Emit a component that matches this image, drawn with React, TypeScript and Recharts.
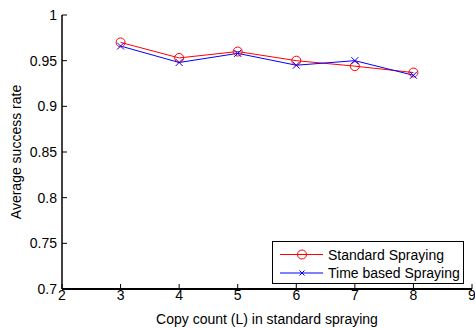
import React from 'react';
import { LineChart, Line, XAxis, YAxis } from 'recharts';

const copyCounts = [3, 4, 5, 6, 7, 8];
const standardSpraying = [0.97, 0.953, 0.96, 0.95, 0.944, 0.937];
const timeBasedSpraying = [0.966, 0.948, 0.958, 0.945, 0.95, 0.934];
const xTicks = [2, 3, 4, 5, 6, 7, 8, 9];
const yTicks = [0.7, 0.75, 0.8, 0.85, 0.9, 0.95, 1];
const seriesNames = ['Standard Spraying', 'Time based Spraying'];
const xTitle = 'Copy count (L) in standard spraying';
const yTitle = 'Average success rate';

const data = copyCounts.map((c, i) => ({
  x: c,
  standard: standardSpraying[i],
  time: timeBasedSpraying[i],
}));

const FONT = '"Liberation Sans", Arial, Helvetica, sans-serif';
const FS = 14;

const BottomTick = (p: any) => (
  <g>
    <line x1={p.x} x2={p.x} y1={p.y} y2={p.y - 5} stroke="#000" strokeWidth={1} />
    <text x={p.x} y={p.y + 11} textAnchor="middle" fontSize={FS} fontFamily={FONT} fill="#000">
      {p.payload.value}
    </text>
  </g>
);
const TopTick = (p: any) => (
  <line x1={p.x} x2={p.x} y1={p.y} y2={p.y + 5} stroke="#000" strokeWidth={1} />
);
const LeftTick = (p: any) => (
  <g>
    <line x1={p.x} x2={p.x + 5} y1={p.y} y2={p.y} stroke="#000" strokeWidth={1} />
    <text x={p.x - 5} y={p.y + 5} textAnchor="end" fontSize={FS} fontFamily={FONT} fill="#000">
      {p.payload.value}
    </text>
  </g>
);
const RightTick = (p: any) => (
  <line x1={p.x} x2={p.x - 5} y1={p.y} y2={p.y} stroke="#000" strokeWidth={1} />
);

const YTitle = (p: any) => {
  const vb = p.viewBox || { x: 0, y: 15, width: 62, height: 274 };
  const cx = vb.x + 21;
  const cy = vb.y + vb.height / 2;
  return (
    <text
      x={cx}
      y={cy}
      transform={`rotate(-90 ${cx} ${cy})`}
      textAnchor="middle"
      fontSize={FS}
      fontFamily={FONT}
      fill="#000"
    >
      {yTitle}
    </text>
  );
};

const CircleDot = (p: any) => (
  <circle key={`c${p.index}`} cx={p.cx} cy={p.cy} r={4.5} fill="none" stroke="#ff0000" strokeWidth={1} />
);
const CrossDot = (p: any) => {
  const s = 3.5;
  return (
    <path
      key={`x${p.index}`}
      d={`M${p.cx - s},${p.cy - s}L${p.cx + s},${p.cy + s}M${p.cx - s},${p.cy + s}L${p.cx + s},${p.cy - s}`}
      stroke="#0000ff"
      strokeWidth={1}
      fill="none"
    />
  );
};

const LegendBox = () => (
  <svg width={192} height={43} style={{ display: 'block' }}>
    <rect x={0.5} y={0.5} width={191} height={42} fill="#fff" stroke="#000" strokeWidth={1} />
    <line x1={8} x2={51} y1={13.5} y2={13.5} stroke="#ff0000" strokeWidth={1} />
    <circle cx={30} cy={13.5} r={4.5} fill="none" stroke="#ff0000" strokeWidth={1} />
    <text x={56} y={18.5} fontSize={FS} fontFamily={FONT} fill="#000">{seriesNames[0]}</text>
    <line x1={8} x2={51} y1={32} y2={32} stroke="#0000ff" strokeWidth={1} />
    <path d="M27.5,29.5L32.5,34.5M27.5,34.5L32.5,29.5" stroke="#0000ff" strokeWidth={1} />
    <text x={56} y={37} fontSize={FS} fontFamily={FONT} fill="#000">{seriesNames[1]}</text>
  </svg>
);

export default function App() {
  return (
    <div style={{ position: 'absolute', left: 0, top: 0, width: 475, height: 329, background: '#fff' }}>
      <LineChart width={475} height={329} data={data} margin={{ top: 15, right: 3, left: 0, bottom: 0 }}>
        <XAxis
          dataKey="x"
          type="number"
          domain={[2, 9]}
          ticks={xTicks}
          height={40}
          tickSize={0}
          tickMargin={0}
          tickLine={false}
          tick={BottomTick}
          axisLine={{ stroke: '#000', strokeWidth: 2 }}
          interval={0}
          label={{ value: xTitle, position: 'insideBottom', offset: 5, fill: '#000', fontSize: FS, fontFamily: FONT }}
        />
        <XAxis
          xAxisId="top"
          orientation="top"
          dataKey="x"
          type="number"
          domain={[2, 9]}
          ticks={xTicks}
          height={0}
          tickSize={0}
          tickMargin={0}
          tickLine={false}
          tick={TopTick}
          axisLine={{ stroke: '#000', strokeWidth: 1 }}
          interval={0}
        />
        <YAxis
          type="number"
          domain={[0.7, 1]}
          ticks={yTicks}
          width={62}
          tickSize={0}
          tickMargin={0}
          tickLine={false}
          tick={LeftTick}
          axisLine={{ stroke: '#000', strokeWidth: 1.5 }}
          interval={0}
          label={YTitle}
        />
        <YAxis
          yAxisId="right"
          orientation="right"
          type="number"
          domain={[0.7, 1]}
          ticks={yTicks}
          width={0}
          tickSize={0}
          tickMargin={0}
          tickLine={false}
          tick={RightTick}
          axisLine={{ stroke: '#000', strokeWidth: 2 }}
          interval={0}
        />
        <Line
          dataKey="standard"
          name={seriesNames[0]}
          stroke="#ff0000"
          strokeWidth={1}
          dot={CircleDot}
          isAnimationActive={false}
        />
        <Line
          dataKey="time"
          name={seriesNames[1]}
          stroke="#0000ff"
          strokeWidth={1}
          dot={CrossDot}
          isAnimationActive={false}
        />
      </LineChart>
      <div style={{ position: 'absolute', left: 272, top: 241, width: 192, height: 43 }}>
        <LegendBox />
      </div>
    </div>
  );
}
